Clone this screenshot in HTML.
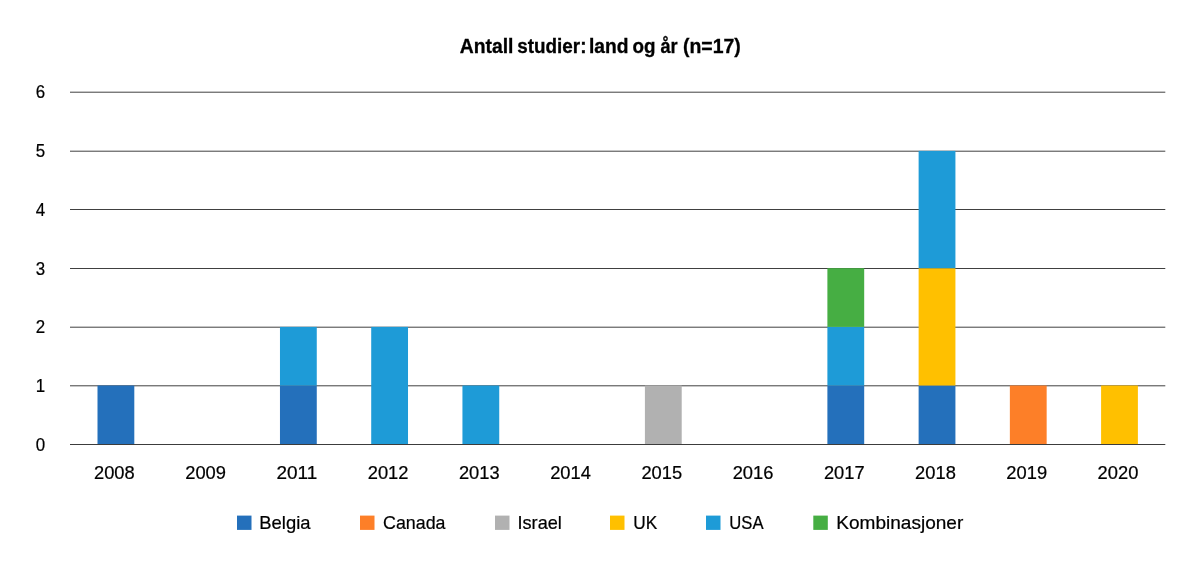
<!DOCTYPE html>
<html lang="no"><head><meta charset="utf-8"><title>Antall studier: land og år (n=17)</title>
<style>html,body{margin:0;padding:0;background:#fff}body{width:1200px;height:569px;overflow:hidden}svg{display:block}text{font-family:"Liberation Sans",sans-serif;fill:#000;stroke:#000;stroke-width:.22px}.b{font-weight:bold;stroke:#000;stroke-width:.3px}</style></head><body>
<svg width="1200" height="569" viewBox="0 0 1200 569">
<rect width="1200" height="569" fill="#fff"/>
<line x1="70.0" x2="1165.3" y1="385.8" y2="385.8" stroke="#404040" stroke-width="1"/>
<line x1="70.0" x2="1165.3" y1="327.2" y2="327.2" stroke="#404040" stroke-width="1"/>
<line x1="70.0" x2="1165.3" y1="268.5" y2="268.5" stroke="#404040" stroke-width="1"/>
<line x1="70.0" x2="1165.3" y1="209.5" y2="209.5" stroke="#404040" stroke-width="1"/>
<line x1="70.0" x2="1165.3" y1="151.2" y2="151.2" stroke="#404040" stroke-width="1"/>
<line x1="70.0" x2="1165.3" y1="92.2" y2="92.2" stroke="#404040" stroke-width="1"/>
<rect x="97.50" y="385.50" width="36.8" height="59.00" fill="#2470bb"/>
<rect x="279.97" y="385.50" width="36.8" height="59.00" fill="#2470bb"/>
<rect x="279.97" y="326.90" width="36.8" height="58.60" fill="#1e9bd7"/>
<rect x="371.21" y="326.90" width="36.8" height="117.60" fill="#1e9bd7"/>
<rect x="462.44" y="385.50" width="36.8" height="59.00" fill="#1e9bd7"/>
<rect x="644.91" y="385.50" width="36.8" height="59.00" fill="#b1b1b1"/>
<rect x="827.39" y="385.50" width="36.8" height="59.00" fill="#2470bb"/>
<rect x="827.39" y="326.90" width="36.8" height="58.60" fill="#1e9bd7"/>
<rect x="827.39" y="268.20" width="36.8" height="58.70" fill="#46ae43"/>
<rect x="918.62" y="385.50" width="36.8" height="59.00" fill="#2470bb"/>
<rect x="918.62" y="268.20" width="36.8" height="117.30" fill="#ffc000"/>
<rect x="918.62" y="150.90" width="36.8" height="117.30" fill="#1e9bd7"/>
<rect x="1009.86" y="385.50" width="36.8" height="59.00" fill="#fd7f28"/>
<rect x="1101.09" y="385.50" width="36.8" height="59.00" fill="#ffc000"/>
<line x1="70.0" x2="1165.3" y1="444.5" y2="444.5" stroke="#3c3c3c" stroke-width="1"/>
<text class="b" y="53" font-size="19.4"><tspan id="t0" x="459.75" textLength="53.75" lengthAdjust="spacingAndGlyphs">Antall</tspan> <tspan id="t1" x="517.25" textLength="69.26" lengthAdjust="spacingAndGlyphs">studier:</tspan> <tspan id="t2" x="589.00" textLength="39.53" lengthAdjust="spacingAndGlyphs">land</tspan> <tspan id="t3" x="632.50" textLength="23.02" lengthAdjust="spacingAndGlyphs">og</tspan> <tspan id="t4" x="660.50" textLength="17.22" lengthAdjust="spacingAndGlyphs">år</tspan> <tspan id="t5" x="683.00" textLength="57.76" lengthAdjust="spacingAndGlyphs">(n=17)</tspan></text>
<text id="y0" x="40.4" y="450.90" text-anchor="middle" font-size="18.4" textLength="9.4" lengthAdjust="spacingAndGlyphs">0</text>
<text id="y1" x="40.4" y="392.15" text-anchor="middle" font-size="18.4" textLength="9.4" lengthAdjust="spacingAndGlyphs">1</text>
<text id="y2" x="40.4" y="333.40" text-anchor="middle" font-size="18.4" textLength="9.4" lengthAdjust="spacingAndGlyphs">2</text>
<text id="y3" x="40.4" y="274.65" text-anchor="middle" font-size="18.4" textLength="9.4" lengthAdjust="spacingAndGlyphs">3</text>
<text id="y4" x="40.4" y="215.90" text-anchor="middle" font-size="18.4" textLength="9.4" lengthAdjust="spacingAndGlyphs">4</text>
<text id="y5" x="40.4" y="157.15" text-anchor="middle" font-size="18.4" textLength="9.4" lengthAdjust="spacingAndGlyphs">5</text>
<text id="y6" x="40.4" y="98.40" text-anchor="middle" font-size="18.4" textLength="9.4" lengthAdjust="spacingAndGlyphs">6</text>
<text id="x2008" x="94.00" y="479.30" font-size="18.4" textLength="40.74" lengthAdjust="spacingAndGlyphs">2008</text>
<text id="x2009" x="185.24" y="479.30" font-size="18.4" textLength="40.74" lengthAdjust="spacingAndGlyphs">2009</text>
<text id="x2011" x="276.47" y="479.30" font-size="18.4" textLength="40.74" lengthAdjust="spacingAndGlyphs">2011</text>
<text id="x2012" x="367.71" y="479.30" font-size="18.4" textLength="40.74" lengthAdjust="spacingAndGlyphs">2012</text>
<text id="x2013" x="458.94" y="479.30" font-size="18.4" textLength="40.74" lengthAdjust="spacingAndGlyphs">2013</text>
<text id="x2014" x="550.18" y="479.30" font-size="18.4" textLength="40.74" lengthAdjust="spacingAndGlyphs">2014</text>
<text id="x2015" x="641.42" y="479.30" font-size="18.4" textLength="40.74" lengthAdjust="spacingAndGlyphs">2015</text>
<text id="x2016" x="732.65" y="479.30" font-size="18.4" textLength="40.74" lengthAdjust="spacingAndGlyphs">2016</text>
<text id="x2017" x="823.89" y="479.30" font-size="18.4" textLength="40.74" lengthAdjust="spacingAndGlyphs">2017</text>
<text id="x2018" x="915.12" y="479.30" font-size="18.4" textLength="40.74" lengthAdjust="spacingAndGlyphs">2018</text>
<text id="x2019" x="1006.36" y="479.30" font-size="18.4" textLength="40.74" lengthAdjust="spacingAndGlyphs">2019</text>
<text id="x2020" x="1097.60" y="479.30" font-size="18.4" textLength="40.74" lengthAdjust="spacingAndGlyphs">2020</text>
<text id="l_Belgia" x="259.25" y="529.40" font-size="19.0" textLength="51.24" lengthAdjust="spacingAndGlyphs">Belgia</text>
<text id="l_Canada" x="383.00" y="529.40" font-size="19.0" textLength="62.49" lengthAdjust="spacingAndGlyphs">Canada</text>
<text id="l_Israel" x="517.50" y="529.40" font-size="19.0" textLength="44.32" lengthAdjust="spacingAndGlyphs">Israel</text>
<text id="l_UK" x="633.25" y="529.40" font-size="19.0" textLength="23.98" lengthAdjust="spacingAndGlyphs">UK</text>
<text id="l_USA" x="729.25" y="529.40" font-size="19.0" textLength="34.24" lengthAdjust="spacingAndGlyphs">USA</text>
<text id="l_Kombinasjoner" x="836.25" y="529.40" font-size="19.0" textLength="127.00" lengthAdjust="spacingAndGlyphs">Kombinasjoner</text>
<rect x="237" y="515.6" width="14.5" height="14.3" fill="#2470bb"/>
<rect x="360" y="515.6" width="14.5" height="14.3" fill="#fd7f28"/>
<rect x="495" y="515.6" width="14.5" height="14.3" fill="#b1b1b1"/>
<rect x="610" y="515.6" width="14.5" height="14.3" fill="#ffc000"/>
<rect x="706" y="515.6" width="14.5" height="14.3" fill="#1e9bd7"/>
<rect x="813.3" y="515.6" width="14.5" height="14.3" fill="#46ae43"/>
</svg></body></html>
